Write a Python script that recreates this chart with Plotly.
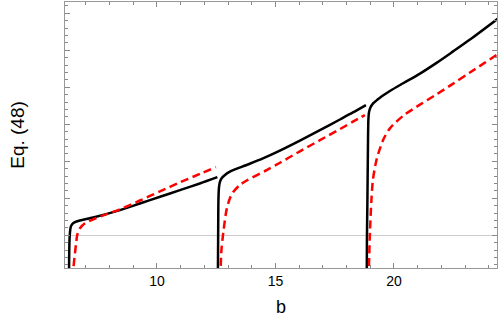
import plotly.graph_objects as go

# Branch 1 (n=1)
b_black1 = [6.286, 6.30, 6.32, 6.36, 6.42, 6.52, 6.75, 7.31, 8.44, 9.28, 10.13, 10.97, 11.81, 12.55]
y_black1 = [-1.5, -0.40, 0.00, 0.22, 0.30, 0.35, 0.40, 0.48, 0.68, 0.86, 1.04, 1.22, 1.40, 1.57]
b_red1 = [6.44, 6.477, 6.582, 6.637, 6.751, 6.962, 7.312, 7.878, 8.439, 9.283, 10.127, 10.970, 11.814, 12.489]
y_red1 = [-1.5, -0.884, -0.25, 0.008, 0.189, 0.324, 0.432, 0.57, 0.70, 0.94, 1.185, 1.43, 1.66, 1.84]

# Branch 2 (n=2)
b_black2 = [12.568, 12.574, 12.582, 12.595, 12.616, 12.658, 12.730, 12.869, 13.080, 13.785, 14.473, 15.190, 16.034, 16.878, 17.722, 18.270, 18.819]
y_black2 = [-1.5, -0.884, -0.127, 0.954, 1.278, 1.441, 1.541, 1.630, 1.72, 1.90, 2.08, 2.29, 2.56, 2.84, 3.13, 3.32, 3.52]
b_red2 = [12.66, 12.688, 12.722, 12.797, 12.941, 13.080, 13.219, 13.502, 13.785, 14.629, 15.190, 16.034, 16.878, 17.722, 18.270, 18.776]
y_red2 = [-1.5, -0.884, -0.397, 0.062, 0.70, 1.00, 1.17, 1.36, 1.48, 1.76, 1.96, 2.27, 2.57, 2.87, 3.07, 3.25]

# Branch 3 (n=3)
b_black3 = [18.852, 18.861, 18.882, 18.903, 18.924, 18.95, 19.00, 19.13, 19.41, 19.83, 20.39, 21.10, 21.80, 22.50, 23.21, 24.40]
y_black3 = [-1.5, -0.127, 0.954, 2.305, 3.15, 3.33, 3.44, 3.57, 3.72, 3.90, 4.11, 4.37, 4.66, 4.97, 5.29, 5.86]
b_red3 = [18.92, 18.945, 18.987, 19.051, 19.114, 19.270, 19.549, 19.831, 20.392, 21.097, 21.802, 22.502, 23.207, 24.401]
y_red3 = [-1.5, -0.884, 0.062, 0.954, 1.495, 2.05, 2.58, 2.89, 3.23, 3.53, 3.81, 4.10, 4.40, 4.90]

x_ticks = [10, 15, 20]

black = dict(color="black", width=2.5, shape="spline", smoothing=0.8)
red = dict(color="#ff0000", width=2.5, dash="8px,4.5px", shape="spline", smoothing=0.8)

fig = go.Figure()
for bx, by in [(b_black1, y_black1), (b_black2, y_black2), (b_black3, y_black3)]:
    fig.add_trace(go.Scatter(x=bx, y=by, mode="lines", line=black, showlegend=False, hoverinfo="skip"))
for bx, by in [(b_red1, y_red1), (b_red2, y_red2), (b_red3, y_red3)]:
    fig.add_trace(go.Scatter(x=bx, y=by, mode="lines", line=red, showlegend=False, hoverinfo="skip"))

axis_common = dict(
    showline=True, linecolor="#999999", linewidth=1, mirror="allticks",
    ticks="inside", tickcolor="#888888", ticklen=5, tickwidth=1,
    showgrid=False,
)

fig.update_xaxes(
    **axis_common,
    range=[6.12, 24.35], tickvals=x_ticks, ticktext=[str(v) for v in x_ticks],
    minor=dict(dtick=1, tick0=0, ticks="inside", ticklen=3, tickcolor="#888888", showgrid=False),
    zeroline=False,
    tickfont=dict(family="Liberation Sans, Arial, sans-serif", size=14, color="black"),
    title=dict(text="b", font=dict(family="Liberation Sans, Arial, sans-serif", size=18, color="black"), standoff=12),
)
fig.update_yaxes(
    **axis_common,
    range=[-0.884, 6.305], dtick=1, tick0=0, showticklabels=False,
    minor=dict(dtick=0.2, tick0=0, ticks="inside", ticklen=3, tickcolor="#888888", showgrid=False),
    zeroline=True, zerolinecolor="#cccccc", zerolinewidth=1,
    title=dict(text="Eq. (48)", font=dict(family="Liberation Sans, Arial, sans-serif", size=19, color="black"), standoff=34),
)

fig.update_layout(
    width=500, height=322,
    margin=dict(l=65, r=3, t=2, b=54, autoexpand=False),
    plot_bgcolor="white", paper_bgcolor="white",
)

fig.write_html("out.html", config={"displayModeBar": False},
               post_script="document.body.style.margin='0px';")
